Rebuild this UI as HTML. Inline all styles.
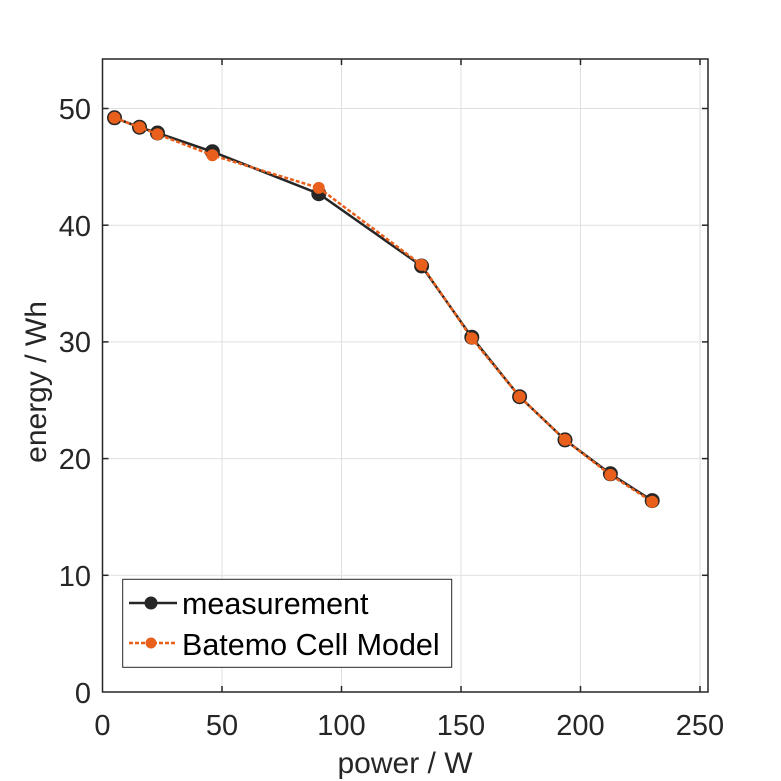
<!DOCTYPE html>
<html><head><style>body{margin:0;background:#fff}svg{display:block}</style></head><body>
<svg width="781" height="781" viewBox="0 0 781 781" font-family="Liberation Sans, sans-serif" fill="#262626">
<g stroke="#dfdfdf" stroke-width="1">
<line x1="222" y1="59" x2="222" y2="692"/><line x1="341.5" y1="59" x2="341.5" y2="692"/><line x1="461" y1="59" x2="461" y2="692"/><line x1="580.5" y1="59" x2="580.5" y2="692"/><line x1="700" y1="59" x2="700" y2="692"/>
<line x1="102.5" y1="575.3" x2="708" y2="575.3"/><line x1="102.5" y1="458.6" x2="708" y2="458.6"/><line x1="102.5" y1="341.9" x2="708" y2="341.9"/><line x1="102.5" y1="225.2" x2="708" y2="225.2"/><line x1="102.5" y1="108.5" x2="708" y2="108.5"/>
</g>
<rect x="102.5" y="59" width="605.5" height="633" fill="none" stroke="#262626" stroke-width="1.5"/>
<g stroke="#262626" stroke-width="1.5">
<line x1="222" y1="692" x2="222" y2="686"/><line x1="341.5" y1="692" x2="341.5" y2="686"/><line x1="461" y1="692" x2="461" y2="686"/><line x1="580.5" y1="692" x2="580.5" y2="686"/><line x1="700" y1="692" x2="700" y2="686"/>
<line x1="222" y1="59" x2="222" y2="65"/><line x1="341.5" y1="59" x2="341.5" y2="65"/><line x1="461" y1="59" x2="461" y2="65"/><line x1="580.5" y1="59" x2="580.5" y2="65"/><line x1="700" y1="59" x2="700" y2="65"/>
<line x1="102.5" y1="575.3" x2="108.5" y2="575.3"/><line x1="102.5" y1="458.6" x2="108.5" y2="458.6"/><line x1="102.5" y1="341.9" x2="108.5" y2="341.9"/><line x1="102.5" y1="225.2" x2="108.5" y2="225.2"/><line x1="102.5" y1="108.5" x2="108.5" y2="108.5"/>
<line x1="708" y1="575.3" x2="702" y2="575.3"/><line x1="708" y1="458.6" x2="702" y2="458.6"/><line x1="708" y1="341.9" x2="702" y2="341.9"/><line x1="708" y1="225.2" x2="702" y2="225.2"/><line x1="708" y1="108.5" x2="702" y2="108.5"/>
</g>
<g font-size="29" text-anchor="middle">
<text x="102.5" y="735">0</text><text x="222" y="735">50</text><text x="341.5" y="735">100</text><text x="461" y="735">150</text><text x="580.5" y="735">200</text><text x="700" y="735">250</text>
</g>
<g font-size="29" text-anchor="end">
<text x="91" y="703">0</text><text x="91" y="586">10</text><text x="91" y="469">20</text><text x="91" y="352">30</text><text x="91" y="236">40</text><text x="91" y="119">50</text>
</g>
<text x="405" y="773" font-size="30" text-anchor="middle">power / W</text>
<text transform="translate(46,382) rotate(-90)" font-size="30" text-anchor="middle">energy / Wh</text>
<polyline fill="none" stroke="#262626" stroke-width="2.5" points="114.5,117.8 139.5,127.2 157.5,133 212.4,151.7 318.8,193.7 421.6,266 471.8,337.2 519.6,396.7 565,439.9 610.4,473.8 652.2,500.6"/>
<g fill="#262626"><circle cx="114.5" cy="117.8" r="7.5"/><circle cx="139.5" cy="127.2" r="7.5"/><circle cx="157.5" cy="133" r="7.5"/><circle cx="212.4" cy="151.7" r="7.5"/><circle cx="318.8" cy="193.7" r="7.5"/><circle cx="421.6" cy="266" r="7.5"/><circle cx="471.8" cy="337.2" r="7.5"/><circle cx="519.6" cy="396.7" r="7.5"/><circle cx="565" cy="439.9" r="7.5"/><circle cx="610.4" cy="473.8" r="7.5"/><circle cx="652.2" cy="500.6" r="7.5"/></g>
<polyline fill="none" stroke="#e8601c" stroke-width="2.5" stroke-dasharray="4,2" points="114.5,117.8 139.5,127.2 157.5,134.2 212.4,155.2 318.8,187.9 421.6,264.9 471.8,338.4 519.6,396.7 565,439.9 610.4,474.9 652.2,501.8"/>
<g fill="#e8601c"><circle cx="114.5" cy="117.8" r="6"/><circle cx="139.5" cy="127.2" r="6"/><circle cx="157.5" cy="134.2" r="6"/><circle cx="212.4" cy="155.2" r="6"/><circle cx="318.8" cy="187.9" r="6"/><circle cx="421.6" cy="264.9" r="6"/><circle cx="471.8" cy="338.4" r="6"/><circle cx="519.6" cy="396.7" r="6"/><circle cx="565" cy="439.9" r="6"/><circle cx="610.4" cy="474.9" r="6"/><circle cx="652.2" cy="501.8" r="6"/></g>
<rect x="122.7" y="579.3" width="329" height="88" fill="#fff" stroke="#262626" stroke-width="1"/>
<line x1="129" y1="603" x2="177" y2="603" stroke="#262626" stroke-width="2.5"/><circle cx="151" cy="603" r="6.5" fill="#262626"/>
<line x1="129" y1="643" x2="177" y2="643" stroke="#e8601c" stroke-width="2.5" stroke-dasharray="4,2"/><circle cx="151" cy="643" r="5.5" fill="#e8601c"/>
<g font-size="30.5" fill="#000"><text x="182" y="614">measurement</text><text x="182" y="655">Batemo Cell Model</text></g>
</svg>
</body></html>
